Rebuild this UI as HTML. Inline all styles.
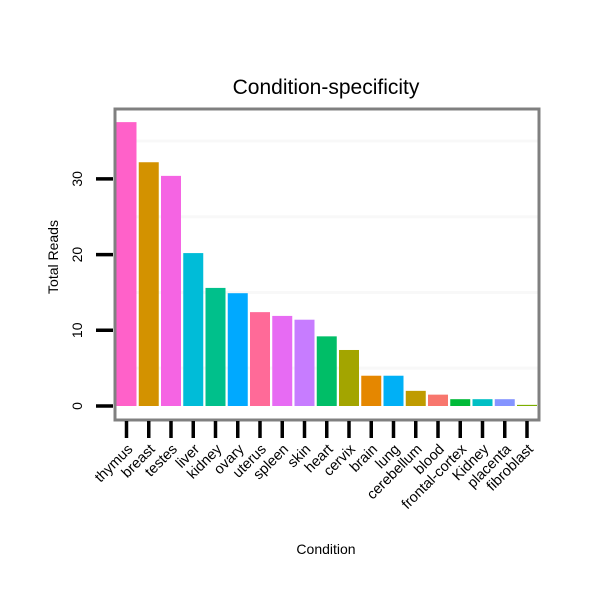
<!DOCTYPE html>
<html><head><meta charset="utf-8"><style>
body{margin:0;background:#fff;}
svg text{font-family:"Liberation Sans",sans-serif;}
</style></head><body>
<svg id="chart" width="600" height="600" viewBox="0 0 600 600" xmlns="http://www.w3.org/2000/svg">
<text x="326" y="94" font-size="21" text-anchor="middle">Condition-specificity</text>
<g id="grid"></g>
<g id="bars"></g>
<rect x="115" y="109" width="424" height="311" fill="none" stroke="#808080" stroke-width="3"/>
<g id="yaxis"></g>
<g id="xaxis"></g>
<text x="326" y="554" font-size="14" text-anchor="middle">Condition</text>
<text transform="translate(58,257) rotate(-90)" font-size="14" text-anchor="middle">Total Reads</text>
</svg>
<script>
const categories=["thymus","breast","testes","liver","kidney","ovary","uterus","spleen","skin","heart","cervix","brain","lung","cerebellum","blood","frontal-cortex","Kidney","placenta","fibroblast"];
const values=[37.5,32.2,30.4,20.2,15.6,14.9,12.4,11.9,11.4,9.2,7.4,4.0,4.0,2.0,1.5,0.9,0.9,0.9,0.15];
const colors=["#ff61c9","#d39200","#f564e3","#00bcd8","#00c08b","#00a9ff","#ff6a98","#e76bf3","#c77cff","#00be67","#a3a500","#e58700","#00b0f6","#bf9b00","#f8766d","#00ba38","#00bfc4","#8494ff","#7cae00"];
const yTicks=[0,10,20,30];
const yMinor=[5,15,25,35];
const NS="http://www.w3.org/2000/svg";
function y(v){return 406-v*7.57;}
const x0=116.5,band=22.25,bw=20;
function x(i){return x0+i*band;}
function mk(t,a,p){const e=document.createElementNS(NS,t);for(const k in a)e.setAttribute(k,a[k]);p.appendChild(e);return e;}
const grid=document.getElementById('grid'),bars=document.getElementById('bars'),ya=document.getElementById('yaxis'),xa=document.getElementById('xaxis');
yMinor.forEach(v=>{const l=mk('line',{x1:115,x2:539,y1:y(v),y2:y(v),stroke:'#f8f8f8','stroke-width':3},grid);

});
yTicks.forEach(v=>{const l=mk('line',{x1:96,x2:113,y1:y(v),y2:y(v),stroke:'#000','stroke-width':3.5},ya);


const t=mk('text',{transform:`translate(82,${y(v)}) rotate(-90)`,'font-size':14,'text-anchor':'middle'},ya);t.textContent=v;

});
categories.forEach((c,i)=>{
const h=406-y(values[i]);
const r=mk('rect',{x:x(i),y:y(values[i]),width:bw,height:Math.max(h,1),fill:colors[i]},bars);


const cx=x(i)+bw/2;
const l=mk('line',{x1:cx,x2:cx,y1:421,y2:438,stroke:'#000','stroke-width':3.5},xa);


const t=mk('text',{transform:`translate(${cx+7},${450}) rotate(-45)`,'font-size':14.5,'text-anchor':'end'},xa);t.textContent=c;


});
</script>
</body></html>
